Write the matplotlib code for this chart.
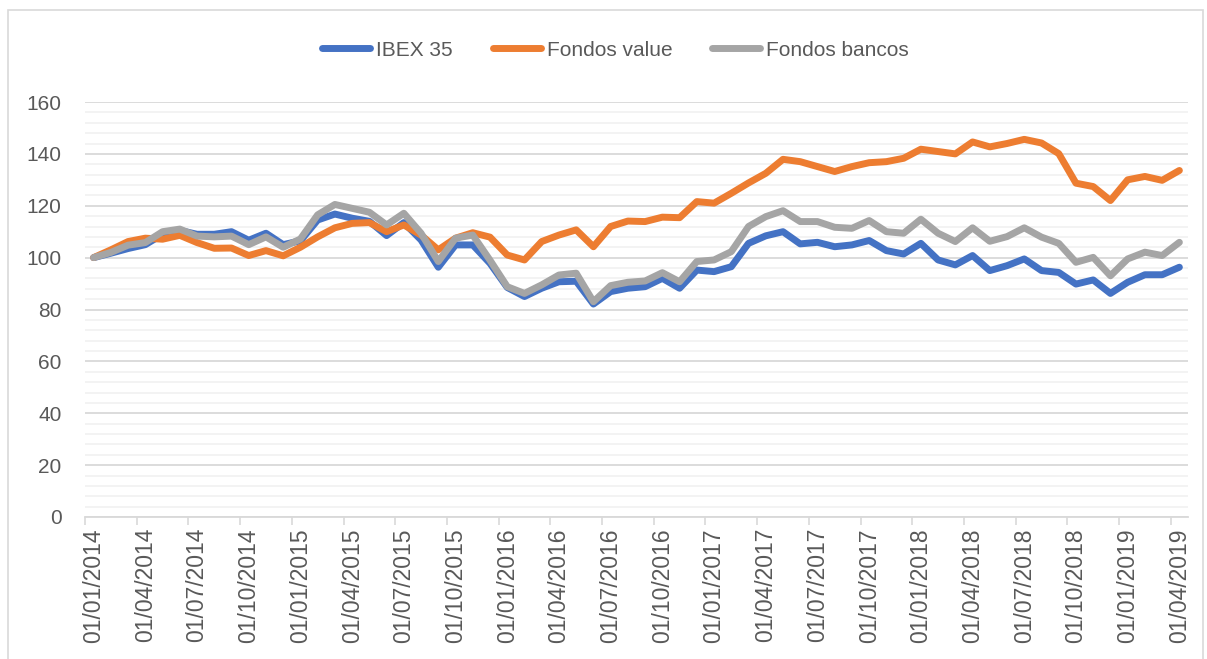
import matplotlib
matplotlib.use("Agg")
import matplotlib.pyplot as plt
import matplotlib.ticker as ticker
from matplotlib.font_manager import fontManager
from matplotlib.patches import Rectangle
import numpy as np

# monthly values, 01/2014 .. 04/2019
ibex = [100, 101.7, 103.5, 105, 109, 110.5, 109, 109, 110, 106.7, 109.4, 105,
        106.5, 114.5, 116.8, 115.2, 114, 108.5, 113.5, 106.8, 96.3, 104.9, 104.9, 97.8,
        88.5, 85, 88.2, 90.7, 90.9, 82.1, 86.9, 88.2, 88.8, 92, 88.2, 95.2,
        94.6, 96.5, 105.5, 108.4, 110, 105.3, 105.9, 104.2, 104.9, 106.6, 102.7, 101.4,
        105.5, 99.1, 97.2, 100.8, 95, 96.9, 99.5, 95, 94.3, 89.8, 91.4, 86.2,
        90.5, 93.4, 93.4, 96.3]
value = [100, 103, 106.2, 107.5, 107.1, 108.6, 105.8, 103.6, 103.7, 100.8, 102.7, 100.7,
         104, 108, 111.5, 113.2, 113.5, 110, 112.6, 108.7, 103, 107.5, 109.6, 107.9,
         101, 99.1, 106.2, 108.7, 110.7, 104.2, 112, 114.1, 113.9, 115.6, 115.4, 121.6,
         121, 124.8, 128.8, 132.5, 137.9, 137, 135.1, 133.2, 135.1, 136.6, 137, 138.3,
         141.8, 140.9, 140, 144.6, 142.7, 144, 145.6, 144.2, 140.1, 128.7, 127.4, 122,
         130, 131.3, 129.8, 133.6]
bancos = [100, 102, 104.8, 105.8, 110, 111, 108.3, 108, 108.3, 105, 108, 104,
          107.2, 116.5, 120.5, 119, 117.5, 112.6, 117.1, 109.4, 98.5, 107.5, 108.7, 99,
          88.8, 86.2, 89.5, 93.3, 94, 83, 89.2, 90.5, 91, 94.2, 90.7, 98.5,
          99.1, 102.3, 112, 115.8, 118.1, 113.9, 113.9, 111.7, 111.3, 114.3, 110, 109.4,
          114.8, 109.4, 106.2, 111.5, 106.3, 108.1, 111.5, 107.9, 105.5, 98.2, 100.1, 93,
          99.5, 102.1, 100.8, 105.9]

dates = [f"01/{m:02d}/{y}" for y in range(2014, 2020) for m in range(1, 13)][:64]

names = [f.name for f in fontManager.ttflist]
narrow = "Liberation Sans Narrow" if "Liberation Sans Narrow" in names else "Liberation Sans"
grey_txt = "#595959"

fig = plt.figure(figsize=(12.07, 6.59), dpi=100)
fig.patches.append(Rectangle((8 / 1207, -0.01), 1195 / 1207, 0.995,
                             transform=fig.transFigure, fill=False,
                             edgecolor="#D9D9D9", lw=1.2))
ax = fig.add_axes([85 / 1207, 1 - 517 / 659, 1103 / 1207, 415 / 659])

x = np.arange(len(dates))
ax.plot(x, ibex, color="#4472C4", lw=5, label="IBEX 35", solid_capstyle="round", zorder=3)
ax.plot(x, value, color="#ED7D31", lw=5, label="Fondos value", solid_capstyle="round", zorder=3)
ax.plot(x, bancos, color="#A5A5A5", lw=5, label="Fondos bancos", solid_capstyle="round", zorder=3)

ax.set_xlim(-0.5, len(dates) - 0.5)
ax.set_ylim(0, 160)
ax.yaxis.set_major_locator(ticker.MultipleLocator(20))
ax.yaxis.set_minor_locator(ticker.MultipleLocator(4))
ax.grid(which="major", axis="y", color="#D9D9D9", lw=1.3, zorder=1)
ax.grid(which="minor", axis="y", color="#F2F2F2", lw=1.3, zorder=0)

ax.set_xticks(x[::3])
ax.set_xticklabels(dates[::3], rotation=90, fontsize=16.5, color=grey_txt,
                   family="Liberation Sans")
ax.set_xticks(np.arange(-0.5, len(dates) - 0.5, 3), minor=True)
ax.tick_params(axis="x", which="major", length=0, pad=8)
ax.tick_params(axis="x", which="minor", length=6, color="#D9D9D9", width=1.2)
ax.tick_params(axis="y", which="both", length=0, pad=17)
for lab in ax.get_yticklabels():
    lab.set_family(narrow)
    lab.set_fontsize(15)
    lab.set_color(grey_txt)

for s in ["top", "right", "left"]:
    ax.spines[s].set_visible(False)
ax.spines["bottom"].set_color("#D9D9D9")
ax.spines["bottom"].set_linewidth(1.3)

leg = fig.legend(loc="center", bbox_to_anchor=(0.51, 1 - 50 / 659), ncol=3,
                 frameon=False, handlelength=2.3, handletextpad=0.3, columnspacing=1.9,
                 prop={"family": narrow, "size": 15})
for t in leg.get_texts():
    t.set_color(grey_txt)

fig.savefig("out.png", dpi=100)
